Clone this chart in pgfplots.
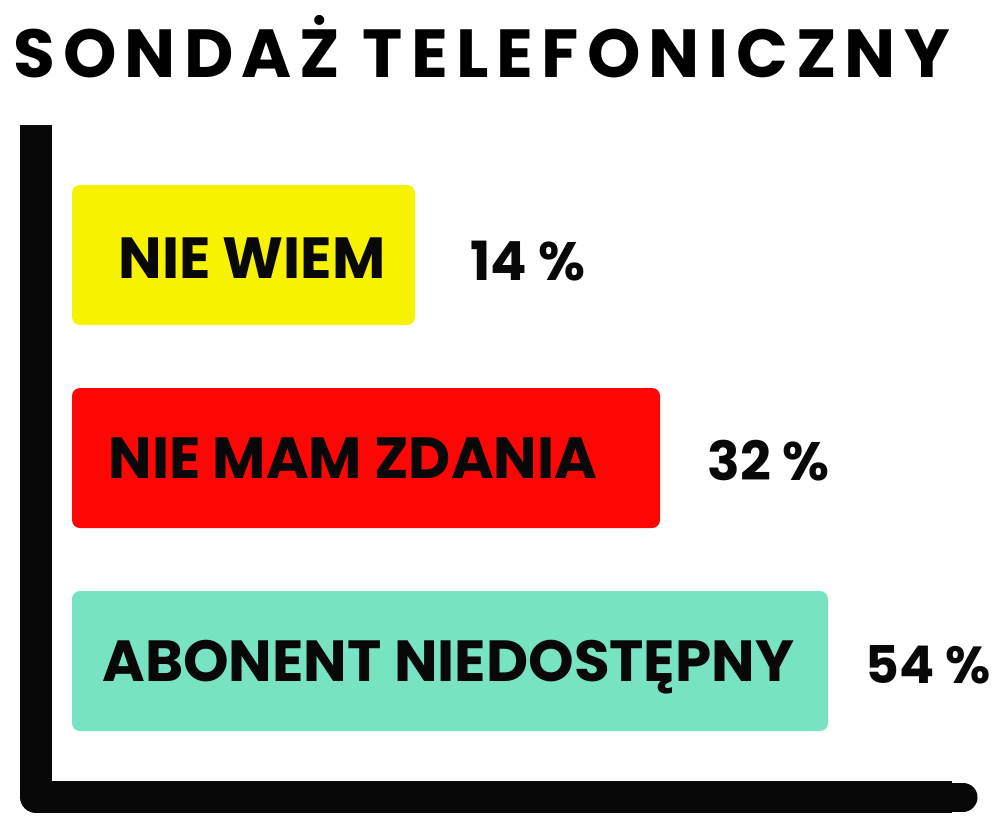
\documentclass[border=0pt]{standalone}
\usepackage{fontspec}
\setmainfont{Poppins}[UprightFont=* Bold, BoldFont=* Bold]
\newfontfamily\titlefont{Poppins}[UprightFont=* Bold, LetterSpace=12]
\usepackage{pgfplots}
\pgfplotsset{compat=1.18}
\definecolor{cyel}{HTML}{F7F300}
\definecolor{cred}{HTML}{FF0606}
\definecolor{cteal}{HTML}{78E3C2}
\begin{document}
\begin{tikzpicture}
\begin{axis}[
  scale only axis, width=500pt, height=410.5pt,
  xmin=-72, xmax=928, ymin=0, ymax=821, y dir=reverse,
  hide axis, clip=false,
]
\path (axis cs:-72,0) rectangle (axis cs:928,821);
% axis lines
\draw[line width=16pt, line cap=butt, line join=round, black!97]
  (axis cs:-36,125) -- (axis cs:-36,797) -- (axis cs:880,797);
\draw[line width=14.5pt, line cap=round, black!97]
  (axis cs:800,797) -- (axis cs:891,797);
% bars (drawn lengths in px units from bar base)
\addplot[xbar, bar shift=0pt, bar width=140, fill=cyel, draw=none, rounded corners=4pt] coordinates {(343,255)};
\addplot[xbar, bar shift=0pt, bar width=140, fill=cred, draw=none, rounded corners=4pt] coordinates {(588,458)};
\addplot[xbar, bar shift=0pt, bar width=140, fill=cteal, draw=none, rounded corners=4pt] coordinates {(756,661)};
% title
\node[anchor=base, inner sep=0pt] at (axis cs:409.5,77) {\titlefont\fontsize{34}{34}\selectfont SONDAŻ TELEFONICZNY};
% bar labels
\node[anchor=base west, inner sep=0pt, text=black!97] at (axis cs:46,278) {\fontsize{29}{29}\selectfont NIE WIEM};
\node[anchor=base west, inner sep=0pt, text=black!97] at (axis cs:36,478) {\fontsize{29}{29}\selectfont NIE MAM ZDANIA};
\node[anchor=base west, inner sep=0pt, text=black!97] at (axis cs:30,681) {\fontsize{29}{29}\selectfont ABONENT NIEDOSTĘPNY};
% values
\node[anchor=base west, inner sep=0pt, text=black!97] at (axis cs:398,280) {\fontsize{27}{27}\selectfont 14 \%};
\node[anchor=base west, inner sep=0pt, text=black!97] at (axis cs:635,480) {\fontsize{27}{27}\selectfont 32 \%};
\node[anchor=base west, inner sep=0pt, text=black!97] at (axis cs:793,683) {\fontsize{26}{26}\selectfont 54 \%};
\end{axis}
\end{tikzpicture}
\end{document}
